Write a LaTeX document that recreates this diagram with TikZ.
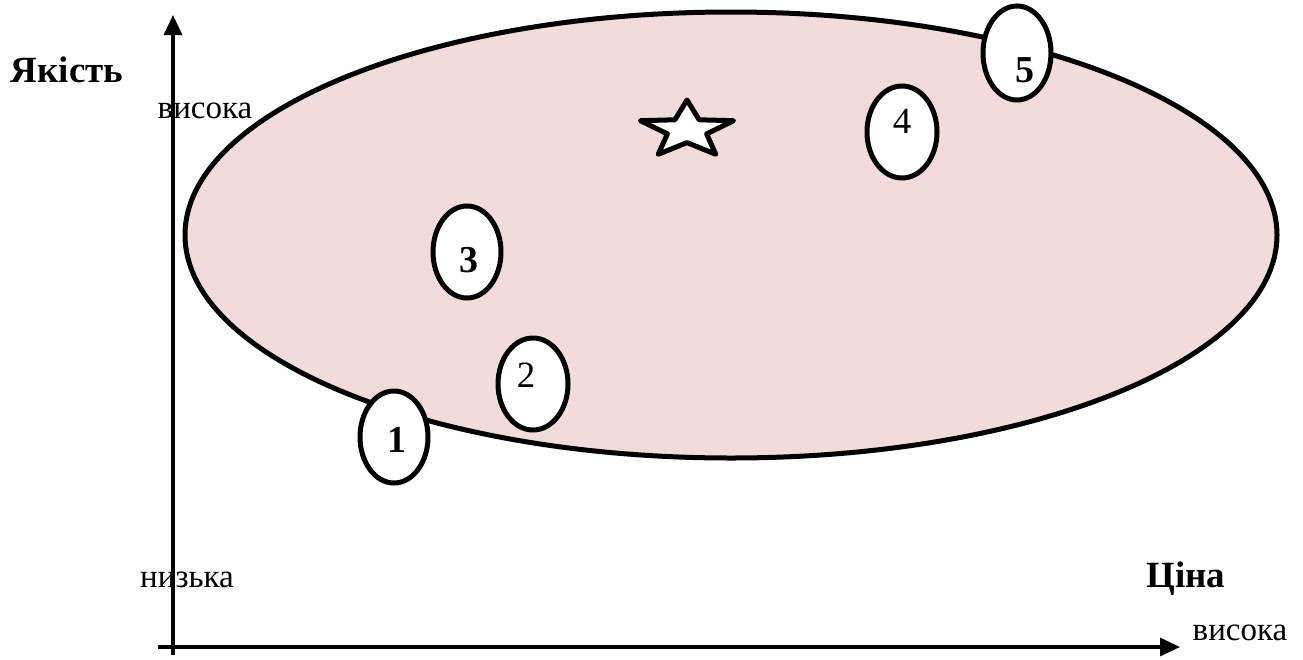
\documentclass[tikz,border=0pt]{standalone}
\usepackage{fontspec}
\setmainfont{Liberation Serif}
\usetikzlibrary{arrows.meta,shapes.geometric}
\definecolor{pinkfill}{HTML}{F2DCDB}
\tikzset{
  axis/.style={line width=3.2pt, -{Triangle[length=20pt,width=18pt]}},
  item/.style={ellipse, draw, line width=5pt, fill=white},
  lbl/.style={anchor=base, inner sep=0pt, font=\fontsize{33}{38}\selectfont},
  blbl/.style={anchor=base, inner sep=0pt, font=\fontsize{37}{42}\selectfont\bfseries},
  num/.style={anchor=base, inner sep=0pt, font=\fontsize{37}{42}\selectfont},
  bnum/.style={anchor=base, inner sep=0pt, font=\fontsize{38}{42}\selectfont\bfseries},
}
\begin{document}
\begin{tikzpicture}[x=1pt,y=-1pt]
\useasboundingbox (0,0) rectangle (1303,659);
% big ellipse
\draw[line width=5pt, fill=pinkfill] (731,235) ellipse [x radius=546, y radius=223];
% axes
\coordinate (o1) at (173,655);
\coordinate (ytop) at (173,15);
\coordinate (o2) at (158,647);
\coordinate (xend) at (1180,647);
\draw[axis] (o1) -- (ytop);
\draw[axis] (o2) -- (xend);
% labels
\node[blbl] (yak) at (67,82) {Якість};
\node[lbl] (vys1) at (205,118) {висока};
\node[lbl] (nyz) at (187,587) {низька};
\node[blbl] (tsina) at (1186,587) {Ціна};
\node[lbl] (vys2) at (1240,640) {висока};
% items
\node[item, minimum width=68pt, minimum height=92pt] (e1) at (394,437) {};
\node[item, minimum width=70pt, minimum height=92pt] (e2) at (533,384) {};
\node[item, minimum width=68pt, minimum height=92pt] (e3) at (467,252) {};
\node[item, minimum width=70pt, minimum height=92pt] (e4) at (902,132) {};
\node[item, minimum width=68pt, minimum height=94pt] (e5) at (1017,53) {};
\node[bnum] (n1) at (397,452) {1};
\node[num] (n2) at (526,387) {2};
\node[bnum] (n3) at (469,272) {3};
\node[num] (n4) at (902,133) {4};
\node[bnum] (n5) at (1025,82) {5};
% star
\draw[line width=5pt, line join=round, fill=white]
  (687,100) -- (674.9,119.8) -- (640.4,120.7) -- (667.4,133.9) -- (658.2,154.3)
  -- (687,142.6) -- (715.8,154.3) -- (706.6,133.9) -- (733.6,120.7) -- (699.1,119.8) -- cycle;
\end{tikzpicture}
\end{document}
